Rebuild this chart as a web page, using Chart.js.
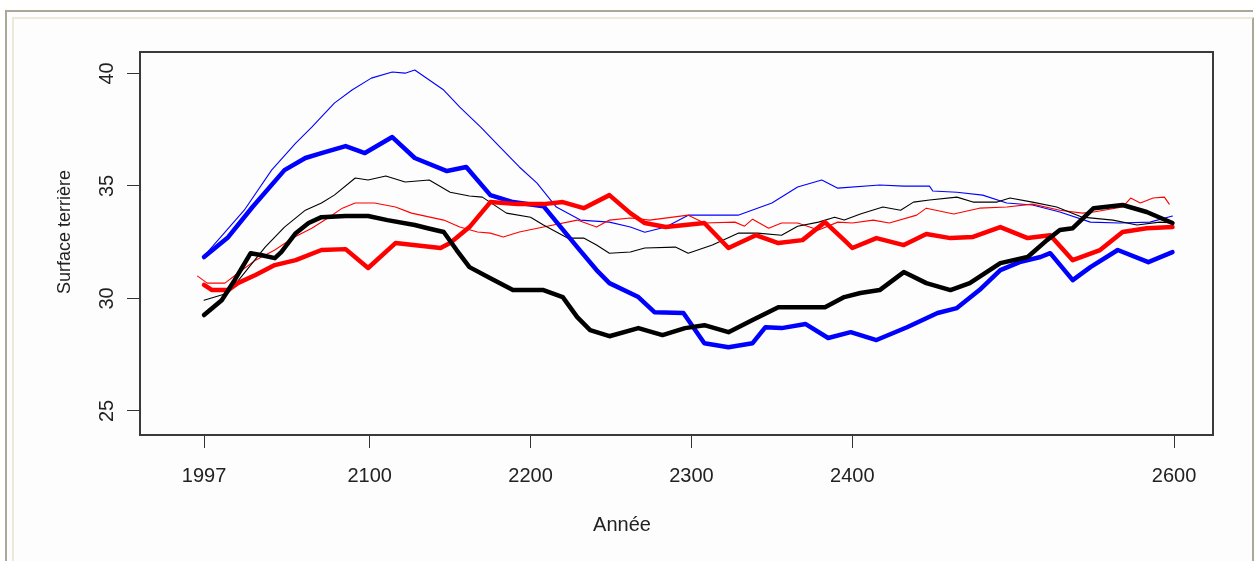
<!DOCTYPE html>
<html>
<head>
<meta charset="utf-8">
<script src="https://cdn.jsdelivr.net/npm/chart.js@4.4.1/dist/chart.umd.min.js"></script>
<style>
  body { margin:0; background:#fff; }
  #outer { position:absolute; left:5px; top:10px; width:1246px; height:560px;
           border-top:2px solid #aca899; border-left:2px solid #aca899; background:#fdfdfd; }
  #inner { position:absolute; left:12px; top:17px; width:1238px; height:560px;
           border-top:2px solid #ece9d8; border-left:2px solid #ece9d8; border-right:2px solid #aca899; }
  canvas { position:absolute; left:0; top:0; }
</style>
</head>
<body>
<div id="outer"></div>
<div id="inner"></div>
<canvas id="myChart" width="1255" height="561"></canvas>
<script>
// axis ticks
var xTicks = [1997, 2100, 2200, 2300, 2400, 2600]
var yTicks = [25, 30, 35, 40]
var xTitle = 'Année'
var yTitle = 'Surface terrière'

// [annee, surface terriere]
var thickBlack = [[1997,29.26],[2008,29.92],[2016,30.81],[2026,32.01],[2033,31.92],[2041,31.79],[2045,32.06],
  [2054,32.90],[2062,33.35],[2070,33.61],[2085,33.66],[2099,33.66],[2111,33.48],[2128,33.26],[2136,33.12],
  [2146,32.95],[2154,32.15],[2162,31.39],[2175,30.90],[2189,30.37],[2208,30.37],[2220,30.06],[2229,29.17],
  [2237,28.59],[2249,28.32],[2267,28.68],[2282,28.37],[2296,28.68],[2308,28.81],[2323,28.50],[2338,29.04],
  [2354,29.61],[2383,29.61],[2395,30.06],[2405,30.24],[2417,30.37],[2432,31.17],[2446,30.68],[2461,30.37],
  [2473,30.68],[2492,31.57],[2509,31.84],[2521,32.59],[2529,33.04],[2537,33.12],[2550,34.01],[2568,34.15],
  [2583,33.84],[2599,33.35]]

var thickRed = [[1997,30.60],[2002,30.37],[2012,30.37],[2018,30.68],[2029,31.04],[2041,31.48],[2054,31.70],
  [2070,32.15],[2085,32.19],[2099,31.35],[2116,32.46],[2144,32.24],[2150,32.46],[2162,33.17],[2175,34.28],
  [2192,34.19],[2208,34.19],[2220,34.28],[2233,34.01],[2249,34.59],[2262,33.79],[2271,33.35],[2284,33.17],
  [2308,33.35],[2323,32.24],[2340,32.81],[2354,32.46],[2369,32.59],[2383,33.39],[2395,32.59],[2400,32.24],
  [2415,32.68],[2432,32.37],[2446,32.86],[2461,32.68],[2475,32.73],[2492,33.17],[2509,32.68],[2523,32.81],
  [2537,31.70],[2554,32.15],[2568,32.95],[2583,33.12],[2599,33.17]]

var thickBlue = [[1997,31.84],[2012,32.72],[2027,34.05],[2047,35.70],[2060,36.24],[2070,36.46],[2085,36.77],
  [2097,36.46],[2114,37.17],[2128,36.24],[2131,36.15],[2148,35.66],[2160,35.84],[2175,34.59],[2189,34.28],
  [2208,34.10],[2229,32.28],[2241,31.26],[2249,30.68],[2267,30.06],[2277,29.39],[2295,29.35],[2308,28.01],
  [2323,27.83],[2338,28.01],[2346,28.72],[2356,28.68],[2371,28.86],[2385,28.24],[2399,28.50],[2415,28.15],
  [2434,28.72],[2453,29.35],[2465,29.57],[2479,30.37],[2492,31.26],[2504,31.61],[2517,31.84],[2523,32.01],
  [2537,30.81],[2548,31.39],[2565,32.15],[2584,31.61],[2599,32.06]]

var thinBlack = [[1997,29.92],[2012,30.24],[2022,31.12],[2035,32.28],[2047,33.17],[2060,33.92],[2070,34.24],
  [2078,34.59],[2091,35.35],[2099,35.26],[2110,35.44],[2122,35.17],[2137,35.26],[2150,34.72],[2162,34.55],
  [2170,34.50],[2185,33.79],[2200,33.61],[2208,33.26],[2223,32.68],[2233,32.68],[2241,32.37],[2249,32.01],
  [2262,32.06],[2271,32.24],[2290,32.28],[2298,32.01],[2313,32.37],[2329,32.90],[2341,32.90],[2356,32.81],
  [2366,33.21],[2379,33.39],[2389,33.61],[2395,33.48],[2405,33.75],[2419,34.06],[2430,33.92],[2438,34.28],
  [2448,34.37],[2465,34.50],[2475,34.28],[2490,34.28],[2498,34.46],[2512,34.28],[2527,34.06],[2543,33.61],
  [2562,33.48],[2577,33.26],[2591,33.39],[2599,33.35]]

var thinRed = [[1993,30.99],[1999,30.68],[2010,30.68],[2018,31.12],[2029,31.70],[2041,32.15],[2052,32.68],
  [2064,33.12],[2074,33.57],[2083,34.01],[2091,34.24],[2103,34.24],[2116,34.06],[2126,33.79],[2146,33.48],
  [2156,33.17],[2167,32.95],[2175,32.90],[2183,32.73],[2193,32.95],[2208,33.17],[2229,33.48],[2241,33.17],
  [2249,33.48],[2262,33.57],[2274,33.48],[2298,33.70],[2308,33.35],[2327,33.39],[2333,33.21],[2338,33.52],
  [2348,33.12],[2356,33.35],[2366,33.35],[2379,33.04],[2391,33.39],[2400,33.35],[2413,33.48],[2423,33.35],
  [2440,33.70],[2446,34.01],[2463,33.75],[2479,34.01],[2496,34.06],[2512,34.19],[2529,33.92],[2543,33.79],
  [2550,33.84],[2568,34.06],[2573,34.46],[2579,34.24],[2587,34.46],[2594,34.50],[2597,34.19]]

var thinBlue = [[1997,31.88],[2022,33.92],[2039,35.70],[2054,36.90],[2064,37.61],[2078,38.68],[2089,39.26],
  [2101,39.79],[2114,40.06],[2122,40.01],[2128,40.15],[2146,39.26],[2156,38.50],[2169,37.61],[2181,36.72],
  [2193,35.84],[2204,35.12],[2216,34.06],[2231,33.48],[2249,33.39],[2262,33.17],[2271,32.94],[2284,33.17],
  [2298,33.70],[2317,33.70],[2329,33.70],[2350,34.24],[2366,34.95],[2381,35.26],[2391,34.90],[2417,35.04],
  [2432,34.99],[2448,34.99],[2450,34.77],[2465,34.72],[2481,34.59],[2496,34.24],[2512,34.15],[2529,33.84],
  [2548,33.39],[2566,33.35],[2585,33.39],[2599,33.66]]

function pts(arr){ return arr.map(function(p){ return {x:p[0], y:p[1]} }) }

function line(arr, color, w){
  return { data: pts(arr), borderColor: color, borderWidth: w, pointRadius: 0, tension: 0,
           fill: false, borderJoinStyle: 'round', borderCapStyle: 'round' }
}

var txt = '#222'
var fam = '"Liberation Sans", Arial, sans-serif'

// box around the plot, rotated y labels and axis titles, R style
var rStyle = {
  id: 'rStyle',
  afterDraw: function(chart){
    var ctx = chart.ctx, a = chart.chartArea, ys = chart.scales.y
    ctx.save()
    ctx.strokeStyle = '#3a3a3a'
    ctx.lineWidth = 2
    ctx.strokeRect(a.left, a.top, a.right - a.left, a.bottom - a.top)
    ctx.fillStyle = txt
    ctx.font = '20px ' + fam
    ctx.textAlign = 'center'
    ctx.textBaseline = 'middle'
    yTicks.forEach(function(v){
      ctx.save()
      ctx.translate(107, ys.getPixelForValue(v))
      ctx.rotate(-Math.PI/2)
      ctx.fillText(String(v), 0, 0)
      ctx.restore()
    })
    ctx.fillText(xTitle, 622, 525)
    ctx.font = '18px ' + fam
    ctx.translate(65, 232)
    ctx.rotate(-Math.PI/2)
    ctx.fillText(yTitle, 0, 0)
    ctx.restore()
  }
}

var ctxx = document.getElementById('myChart').getContext('2d')
var chart = new Chart(ctxx, {
  type: 'line',
  data: {
    datasets: [
      line(thickBlack, '#000000', 4.5),
      line(thickRed, '#ff0000', 4.5),
      line(thickBlue, '#0000ff', 4.5),
      line(thinBlack, '#000000', 1.1),
      line(thinRed, '#ff0000', 1.1),
      line(thinBlue, '#0000ff', 1.1)
    ]
  },
  options: {
    responsive: false,
    animation: false,
    layout: { padding: { left: 0, top: 52, right: 42, bottom: 0 } },
    plugins: { legend: { display: false }, tooltip: { enabled: false } },
    scales: {
      x: {
        type: 'linear', min: 1957.2, max: 2624.2,
        afterBuildTicks: function(s){ s.ticks = xTicks.map(function(v){ return {value:v} }) },
        afterFit: function(s){ s.height = 126 },
        grid: { drawOnChartArea: false, drawTicks: true, tickLength: 13, color: '#333' },
        border: { display: false },
        ticks: { color: txt, font: { size: 20, family: fam }, padding: 16, maxRotation: 0, autoSkip: false,
                 callback: function(v){ return String(v) } }
      },
      y: {
        min: 23.93, max: 40.95,
        afterBuildTicks: function(s){ s.ticks = yTicks.map(function(v){ return {value:v} }) },
        afterFit: function(s){ s.width = 140 },
        grid: { drawOnChartArea: false, drawTicks: true, tickLength: 13, color: '#333' },
        border: { display: false },
        ticks: { display: false }
      }
    }
  },
  plugins: [rStyle]
})
</script>
</body>
</html>
